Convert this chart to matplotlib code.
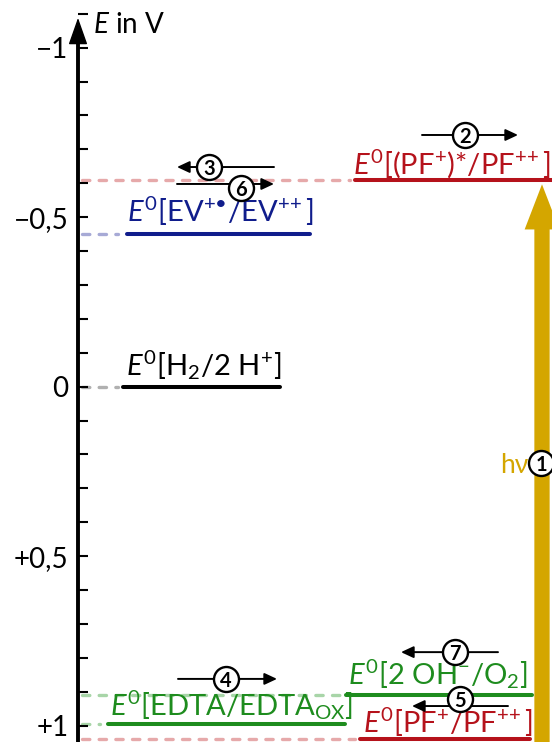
import matplotlib
matplotlib.use("Agg")
import matplotlib.pyplot as plt
from matplotlib.ticker import MultipleLocator

plt.rcParams["font.family"] = ["Lato", "DejaVu Sans"]
plt.rcParams["mathtext.fontset"] = "custom"
plt.rcParams["mathtext.rm"] = "Lato"
plt.rcParams["mathtext.it"] = "Lato:italic"
plt.rcParams["mathtext.bf"] = "Lato:bold"

# redox potentials (V)
level_names = ["PF+*/PF++", "EV+./EV++", "H2/2H+", "EDTA/EDTAox", "2OH-/O2", "PF+/PF++"]
level_E = [-0.61, -0.45, 0.0, 0.995, 0.91, 1.04]
level_labels = [
    r"$\mathit{E}^{0}[(\mathrm{PF}^{+})$*$/\mathrm{PF}^{+\!+}]$",
    "$\\mathit{E}^{0}[\\mathrm{EV}^{+\\mathrm{\u2022}}/\\mathrm{EV}^{+\\!+}]$",
    r"$\mathit{E}^{0}[\mathrm{H}_{2}/2\ \mathrm{H}^{+}]$",
    r"$\mathit{E}^{0}[\mathrm{EDTA}/\mathrm{EDTA}_{\mathrm{OX}}]$",
    r"$\mathit{E}^{0}[2\ \mathrm{OH}^{-}/\mathrm{O}_{2}]$",
    r"$\mathit{E}^{0}[\mathrm{PF}^{+}/\mathrm{PF}^{+\!+}]$",
]

tick_vals = [-1, -0.5, 0, 0.5, 1]
tick_labels = ["\u22121", "\u22120,5", "0", "+0,5", "+1"]

# process steps
step_nums = ["2", "3", "6", "4", "7", "5"]
step_circle_E = [-0.7425, -0.648, -0.586, 0.862, 0.783, 0.9215]
step_arrow_E = [-0.7425, -0.648, -0.598, 0.862, 0.783, 0.942]

# layout (x in pixel-like units)
line_x = [(355, 552), (127, 310), (123, 280), (108, 345), (346, 532), (360, 530)]
dash_x1 = [350, 118, 118, 100, 340, 355]
label_pos = [(551, -0.6295, "right"), (127, -0.4867, "left"), (126, -0.0345, "left"),
             (110, 0.9714, "left"), (528, 0.8799, "right"), (533, 1.0206, "right")]
solid_c = ["#b5121b", "#101d8c", "black", "#1e8c1e", "#1e8c1e", "#b5121b"]
faded_c = ["#e6a9aa", "#a7aad6", "#b0b0b0", "#a8d5a8", "#a8d5a8", "#e6a9aa"]
step_x = [465, 209, 241, 226, 455, 460]
step_arrow = [(422, 518), (274, 177), (177, 274), (178, 277), (498, 401), (508, 412)]

gold = "#d4a600"
AX_X = 78

fig = plt.figure(figsize=(5.52, 7.42), dpi=100)
ax = fig.add_axes([0, 0, 1, 1])
ax.set_xlim(0, 552)
ax.set_ylim(1.0481, -1.1407)

for s in ["top", "right", "bottom"]:
    ax.spines[s].set_visible(False)
ax.spines["left"].set_position(("data", AX_X))
ax.spines["left"].set_linewidth(2.8)
ax.spines["left"].set_bounds(-1.02, 1.0481)
ax.set_xticks([])
ax.set_yticks(tick_vals, tick_labels)
ax.yaxis.set_minor_locator(MultipleLocator(0.1))
ax.tick_params(axis="y", which="both", direction="in", length=7.5, width=1.5, pad=7,
               labelsize=20)

# axis arrow head
ax.annotate("", xy=(AX_X, -1.088), xytext=(AX_X, -1.0),
            arrowprops=dict(arrowstyle="-|>,head_length=0.85,head_width=0.3",
                            mutation_scale=20, lw=1, color="black",
                            shrinkA=0, shrinkB=0))
ax.text(93, -1.0434, r"$\mathit{E}$ in V", fontsize=20, va="baseline", ha="left")

# light excitation arrow
ax.annotate("", xy=(542, -0.597), xytext=(542, 1.08),
            arrowprops=dict(arrowstyle="simple,head_length=0.65,head_width=0.5,tail_width=0.22",
                            mutation_scale=50, color=gold, lw=0,
                            shrinkA=0, shrinkB=0), zorder=2)
ax.text(528, 0.2546, "h\u03bd", color=gold, fontsize=19, ha="right", va="baseline")
ax.plot(541, 0.2251, "o", ms=18, mfc="white", mec="black", mew=1.7, zorder=4)
ax.text(541, 0.2251, "1", fontsize=14.5, fontweight="bold", ha="center",
        va="center_baseline", zorder=5)

# energy levels
for i, E in enumerate(level_E):
    x0, x1 = line_x[i]
    ax.plot([82, dash_x1[i]], [E, E], color=faded_c[i], lw=2.4,
            dashes=(2.2, 2.8), dash_capstyle="round", zorder=1)
    ax.plot([x0, x1], [E, E], color=solid_c[i], lw=2.9, solid_capstyle="round", zorder=3)
    tx, ty, ha = label_pos[i]
    ax.text(tx, ty, level_labels[i], color=solid_c[i], fontsize=21, ha=ha,
            va="baseline", zorder=3)

# process steps
for i, n in enumerate(step_nums):
    xa, xb = step_arrow[i]
    Ea = step_arrow_E[i]
    Ec = step_circle_E[i]
    ax.annotate("", xy=(xb, Ea), xytext=(xa, Ea),
                arrowprops=dict(arrowstyle="-|>,head_length=0.75,head_width=0.35",
                                mutation_scale=10, lw=1.4, color="black",
                                shrinkA=0, shrinkB=0), zorder=4)
    ax.plot(step_x[i], Ec, "o", ms=18, mfc="white", mec="black", mew=1.7, zorder=5)
    ax.text(step_x[i], Ec, n, fontsize=14.5, fontweight="bold", ha="center",
            va="center_baseline", zorder=6)

fig.savefig("out.png", dpi=100)
